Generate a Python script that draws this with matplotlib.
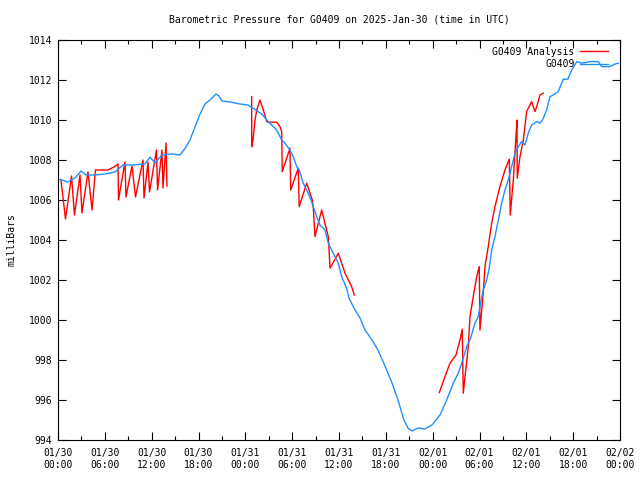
import numpy as np
import matplotlib
matplotlib.use("Agg")
import matplotlib.pyplot as plt
from matplotlib.ticker import MultipleLocator, FixedLocator

# hours since 2025-01-30 00:00 UTC, pressure in mb
obs_hours = [0.00, 0.51, 1.28, 2.18, 2.95, 3.59, 4.74, 6.02, 7.30, 8.33, 9.48, 11.15,
             11.79, 12.43, 13.32, 14.60, 15.63, 16.40, 16.91, 17.55, 18.19, 18.83, 19.47,
             19.86, 20.24, 20.63, 21.01, 22.03, 23.32, 24.34, 25.46, 26.10, 26.74, 27.38,
             28.02, 28.66, 29.08, 29.72, 30.14, 30.58, 30.91, 31.42, 32.07, 32.71, 33.14,
             33.56, 34.20, 34.63, 35.06, 35.91, 36.34, 36.98, 37.28, 38.05, 38.69, 39.33,
             40.23, 40.99, 41.89, 42.79, 43.56, 44.32, 44.84, 45.35, 46.12, 47.02, 47.91,
             48.94, 49.80, 50.64, 51.28, 51.72, 52.36, 52.78, 53.42, 53.84, 54.06, 54.48,
             54.92, 55.25, 55.56, 55.98, 56.41, 56.84, 57.26, 57.69, 58.12, 58.55, 58.97,
             59.40, 59.83, 60.25, 60.68, 61.33, 61.75, 62.07, 62.60, 63.03, 63.45, 64.09,
             64.73, 65.33, 65.81, 66.45, 67.09, 67.51, 68.15, 69.22, 69.65, 70.71, 71.36,
             71.78]
obs_mb = [1007.05, 1007.00, 1006.90, 1007.10, 1007.45, 1007.25, 1007.25, 1007.30, 1007.40,
          1007.75, 1007.75, 1007.80, 1008.15, 1007.85, 1008.25, 1008.30, 1008.25, 1008.65,
          1009.00, 1009.65, 1010.30, 1010.80, 1011.00, 1011.15, 1011.30, 1011.20, 1010.95,
          1010.90, 1010.80, 1010.75, 1010.47, 1010.30, 1010.00, 1009.75, 1009.50, 1009.00,
          1008.84, 1008.50, 1008.17, 1007.67, 1007.50, 1006.84, 1006.34, 1005.67, 1005.17,
          1004.75, 1004.50, 1003.84, 1003.50, 1002.84, 1002.17, 1001.59, 1001.09, 1000.50,
          1000.10, 999.50, 999.00, 998.50, 997.70, 996.85, 996.00, 995.00, 994.60, 994.45,
          994.60, 994.55, 994.75, 995.25, 996.00, 996.84, 997.34, 997.84, 998.67, 999.00,
          999.84, 1000.17, 1000.67, 1001.50, 1002.00, 1002.59, 1003.50, 1004.17, 1005.00,
          1005.84, 1006.50, 1007.00, 1007.67, 1008.34, 1008.67, 1008.92, 1008.75, 1009.34,
          1009.75, 1009.92, 1009.84, 1010.00, 1010.50, 1011.17, 1011.25, 1011.42, 1012.04,
          1012.04, 1012.50, 1012.92, 1012.84, 1012.87, 1012.92, 1012.92, 1012.67, 1012.67,
          1012.80, 1012.84]

# analysis runs, nan = gap between runs
ana_hours = [0.38, 0.96, 1.73, 2.11, 2.82, 3.07, 3.84, 4.36, 4.80, 6.41, 7.17, 7.69, 7.75,
             8.58, 8.71, 9.48, 9.93, 10.89, 11.02, 11.53, 11.72, 12.62, 12.75, 13.32, 13.45,
             13.84, 13.96, np.nan,
             24.81, 24.82, 24.98, 25.24, 25.46, 25.88, 26.30, 26.74, 26.90, 28.02, 28.44,
             28.66, 28.73, 29.72, 29.81, 30.78, 30.90, 31.86, 32.58, 32.71, 32.92, 33.78,
             34.63, 34.85, 35.91, 36.77, 37.62, 37.96, np.nan,
             48.85, 49.58, 50.22, 50.99, 51.50, 51.79, 51.92, 52.56, 52.78, 53.20, 53.64,
             53.97, 54.06, 54.48, 54.70, 55.12, 55.56, 55.98, 56.62, 57.26, 57.82, 57.94,
             58.33, 58.67, 58.80, 58.84, 59.19, 59.61, 60.04, 60.68, 60.89, 61.11, 61.33,
             61.75, 62.17]
ana_mb = [1007.00, 1005.05, 1007.20, 1005.25, 1007.25, 1005.35, 1007.40, 1005.50, 1007.50,
          1007.50, 1007.65, 1007.80, 1006.00, 1007.90, 1006.15, 1007.70, 1006.15, 1008.00,
          1006.10, 1007.90, 1006.40, 1008.50, 1006.50, 1008.50, 1006.60, 1008.85, 1006.70,
          np.nan,
          1011.17, 1008.67, 1009.00, 1010.00, 1010.50, 1011.00, 1010.50, 1009.92, 1009.89,
          1009.89, 1009.67, 1009.42, 1007.42, 1008.59, 1006.50, 1007.59, 1005.67, 1006.84,
          1006.00, 1005.59, 1004.17, 1005.50, 1004.17, 1002.59, 1003.34, 1002.34, 1001.67,
          1001.25, np.nan,
          996.37, 997.17, 997.84, 998.25, 999.00, 999.54, 996.34, 998.67, 1000.17, 1001.17,
          1002.17, 1002.67, 999.50, 1001.34, 1002.67, 1003.67, 1004.84, 1005.67, 1006.67,
          1007.50, 1008.04, 1005.25, 1007.00, 1009.17, 1010.00, 1007.09, 1008.17, 1009.00,
          1010.42, 1010.92, 1010.67, 1010.42, 1010.67, 1011.25, 1011.34]

tick_hours = [0, 6, 12, 18, 24, 30, 36, 42, 48, 54, 60, 66, 72]
tick_labels = ["01/30\n00:00", "01/30\n06:00", "01/30\n12:00", "01/30\n18:00",
               "01/31\n00:00", "01/31\n06:00", "01/31\n12:00", "01/31\n18:00",
               "02/01\n00:00", "02/01\n06:00", "02/01\n12:00", "02/01\n18:00",
               "02/02\n00:00"]

plt.rcParams['font.family'] = ['DejaVu Sans Mono']
plt.rcParams['font.size'] = 7

fig = plt.figure(figsize=(6.4, 4.8), dpi=100)
ax = fig.add_axes([58/640, 40/480, 562/640, 400/480])

ax.plot(ana_hours, ana_mb, color='#ff0000', lw=1.0, label='G0409 Analysis')
ax.plot(obs_hours, obs_mb, color='#1e90ff', lw=1.0, label='G0409')

ax.set_xlim(0, 72)
ax.set_ylim(994, 1014)
ax.xaxis.set_major_locator(FixedLocator(tick_hours))
ax.set_xticklabels(tick_labels)
ax.xaxis.set_minor_locator(MultipleLocator(3))
ax.yaxis.set_major_locator(MultipleLocator(2))
ax.tick_params(which='both', direction='in', top=True, right=True, width=0.8)
ax.tick_params(which='major', length=6)
ax.tick_params(which='minor', length=3)
ax.tick_params(axis='x', pad=6)
ax.tick_params(axis='y', pad=4)
for s in ax.spines.values():
    s.set_linewidth(0.8)

ax.legend(loc='upper right', frameon=False, markerfirst=False, handlelength=2.8,
          handletextpad=0.6, borderaxespad=0.3, labelspacing=0.25,
          bbox_to_anchor=(0.99, 1.0))

fig.text(339/640, 1 - 19/480, 'Barometric Pressure for G0409 on 2025-Jan-30 (time in UTC)',
         ha='center', va='center')
fig.text(12/640, 0.5, 'milliBars', rotation=90, ha='center', va='center')

fig.savefig('out.png', dpi=100)
